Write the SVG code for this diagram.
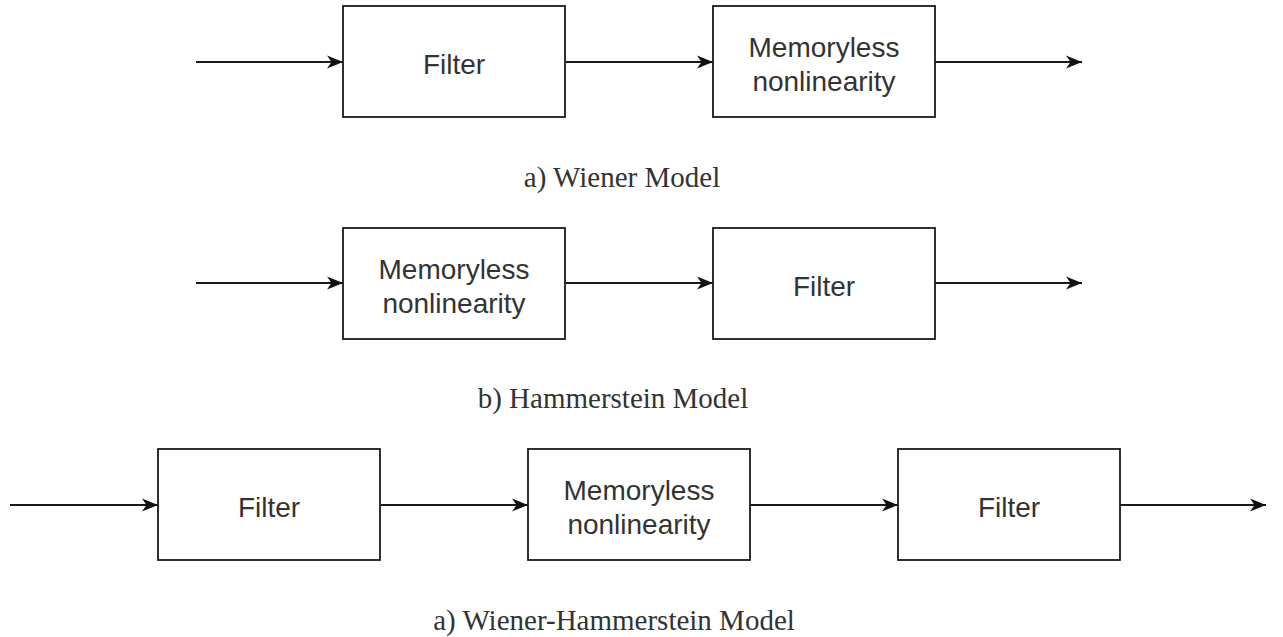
<svg xmlns="http://www.w3.org/2000/svg" width="1283" height="637" viewBox="0 0 1283 637">
  <style>
    .box { fill: #ffffff; stroke: #1a1a1a; stroke-width: 1.8; }
    .label { font-family: "Liberation Sans", Arial, sans-serif; font-size: 28px; fill: #333333; text-anchor: middle; }
    .caption { font-family: "Liberation Serif", "Times New Roman", serif; font-size: 29px; fill: #333333; text-anchor: middle; }
    .wire { stroke: #1a1a1a; stroke-width: 2; fill: none; marker-end: url(#arrow); }
  </style>
  <defs>
    <!-- filled classic arrowhead with a notched back -->
    <marker id="arrow" markerUnits="userSpaceOnUse" markerWidth="18" markerHeight="16" refX="16" refY="8" orient="auto">
      <path d="M0,1.5 L16,8 L0,14.5 L4.5,8 Z" fill="#111111"/>
    </marker>
  </defs>

  <rect width="1283" height="637" fill="#ffffff"/>

  <!-- connectors -->
  <g id="connectors">
    <line class="wire" x1="196" y1="62" x2="343" y2="62"/>
    <line class="wire" x1="566" y1="62" x2="713" y2="62"/>
    <line class="wire" x1="935" y1="62" x2="1082" y2="62"/>

    <line class="wire" x1="196" y1="283" x2="343" y2="283"/>
    <line class="wire" x1="566" y1="283" x2="713" y2="283"/>
    <line class="wire" x1="935" y1="283" x2="1082" y2="283"/>

    <line class="wire" x1="10" y1="505" x2="158" y2="505"/>
    <line class="wire" x1="381" y1="505" x2="528" y2="505"/>
    <line class="wire" x1="750" y1="505" x2="898" y2="505"/>
    <line class="wire" x1="1120" y1="505" x2="1266" y2="505"/>
  </g>

  <!-- a) Wiener model -->
  <g id="w-filter">
    <rect class="box" x="343" y="6" width="222" height="111"/>
    <text class="label" x="454" y="74">Filter</text>
  </g>
  <g id="w-nonlin">
    <rect class="box" x="713" y="6" width="222" height="111"/>
    <text class="label" x="824" y="57">Memoryless</text>
    <text class="label" x="824" y="91">nonlinearity</text>
  </g>
  <text class="caption" x="622" y="187">a) Wiener Model</text>

  <!-- b) Hammerstein model -->
  <g id="h-nonlin">
    <rect class="box" x="343" y="228" width="222" height="111"/>
    <text class="label" x="454" y="279">Memoryless</text>
    <text class="label" x="454" y="313">nonlinearity</text>
  </g>
  <g id="h-filter">
    <rect class="box" x="713" y="228" width="222" height="111"/>
    <text class="label" x="824" y="296">Filter</text>
  </g>
  <text class="caption" x="613" y="408">b) Hammerstein Model</text>

  <!-- c) Wiener-Hammerstein model -->
  <g id="wh-filter-in">
    <rect class="box" x="158" y="449" width="222" height="111"/>
    <text class="label" x="269" y="517">Filter</text>
  </g>
  <g id="wh-nonlin">
    <rect class="box" x="528" y="449" width="222" height="111"/>
    <text class="label" x="639" y="500">Memoryless</text>
    <text class="label" x="639" y="534">nonlinearity</text>
  </g>
  <g id="wh-filter-out">
    <rect class="box" x="898" y="449" width="222" height="111"/>
    <text class="label" x="1009" y="517">Filter</text>
  </g>
  <text class="caption" x="614" y="630">a) Wiener-Hammerstein Model</text>
</svg>
